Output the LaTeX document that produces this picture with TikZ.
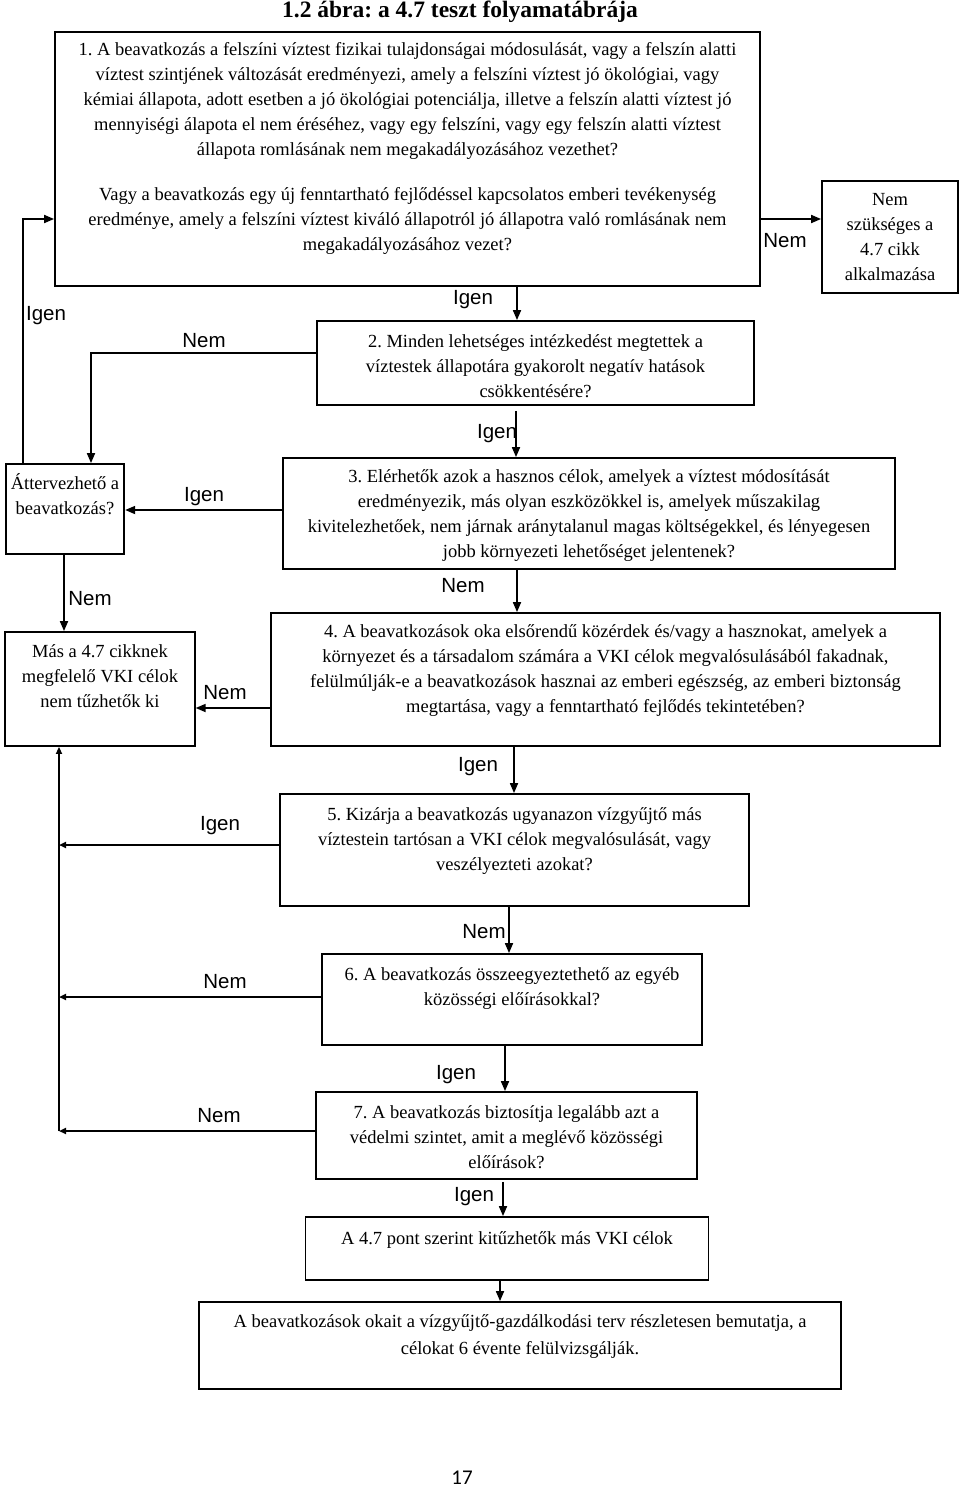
\documentclass[tikz,border=0pt]{standalone}
\usepackage{fontspec}
\setmainfont{Liberation Serif}
\newfontfamily\labfont{Liberation Sans}
\newfontfamily\pgnfont{Carlito}
\usetikzlibrary{arrows.meta}
\frenchspacing
\begin{document}
\begin{tikzpicture}[x=1pt,y=-1pt,
  boxs/.style={draw, line width=1.8pt, inner sep=0pt},
  txt/.style={align=center, inner sep=0pt, font=\fontsize{18.5}{24.8}\selectfont},
  lab/.style={inner sep=0pt, font=\labfont\fontsize{20.5}{22}\selectfont},
  arr/.style={line width=1.7pt, -{Triangle[length=10pt,width=8pt]}},
  sarr/.style={line width=1.7pt, -{Triangle[length=7pt,width=6pt]}}]
\fill[white] (0,0) rectangle (960,1488);
\useasboundingbox (0,0) rectangle (960,1488);

% helper coordinates
\coordinate (xL) at (23,0);
\coordinate (x91) at (91,0);
\coordinate (x64) at (64,0);
\coordinate (x59) at (59,0);
\coordinate (x517) at (517,0);
\coordinate (x516) at (516,0);
\coordinate (x514) at (514,0);
\coordinate (x509) at (509,0);
\coordinate (x505) at (505,0);
\coordinate (x503) at (503,0);
\coordinate (x500) at (500,0);
\coordinate (y219) at (0,219);
\coordinate (y353) at (0,353);
\coordinate (y510) at (0,510);
\coordinate (y708) at (0,708);
\coordinate (y845) at (0,845);
\coordinate (y997) at (0,997);
\coordinate (y1131) at (0,1131);

% title
\node[inner sep=0pt, font=\bfseries\fontsize{23.5}{26}\selectfont] (title) at (460,12) {1.2 ábra: a 4.7 teszt folyamatábrája};

% boxes
\node[boxs, minimum width=705pt, minimum height=254pt] (b1) at (407.5,159) {};
\node[boxs, minimum width=136pt, minimum height=112pt] (nsz) at (890,237) {};
\node[boxs, minimum width=437pt, minimum height=84pt] (b2) at (535.5,363) {};
\node[boxs, minimum width=611.5pt, minimum height=111pt] (b3) at (589,513.5) {};
\node[boxs, minimum width=118.5pt, minimum height=90pt] (att) at (65,509) {};
\node[boxs, minimum width=189.5pt, minimum height=114pt] (mas) at (100,689) {};
\node[boxs, minimum width=669pt, minimum height=133pt] (b4) at (605.5,679.5) {};
\node[boxs, minimum width=469pt, minimum height=112pt] (b5) at (514.5,850) {};
\node[boxs, minimum width=380pt, minimum height=91pt] (b6) at (512,999.5) {};
\node[boxs, minimum width=381pt, minimum height=87pt] (b7) at (506.5,1135.5) {};
\node[boxs, minimum width=403pt, minimum height=63pt] (b8) at (507,1248.5) {};
\node[boxs, minimum width=642pt, minimum height=87pt] (b9) at (520,1345.5) {};

% box texts (anchor=base = baseline of the last line)
\node[txt, anchor=base] (t1) at (407.5,250.5) {1. A beavatkozás a felszíni víztest fizikai tulajdonságai módosulását, vagy a felszín alatti\\
víztest szintjének változását eredményezi, amely a felszíni víztest jó ökológiai, vagy\\
kémiai állapota, adott esetben a jó ökológiai potenciálja, illetve a felszín alatti víztest jó\\
mennyiségi álapota el nem éréséhez, vagy egy felszíni, vagy egy felszín alatti víztest\\
állapota romlásának nem megakadályozásához vezethet?\\[21pt]
Vagy a beavatkozás egy új fenntartható fejlődéssel kapcsolatos emberi tevékenység\\
eredménye, amely a felszíni víztest kiváló állapotról jó állapotra való romlásának nem\\
megakadályozásához vezet?};
\node[txt, anchor=base] (tnsz) at (890,280) {Nem\\szükséges a\\4.7 cikk\\alkalmazása};
\node[txt, anchor=base] (t2) at (535.5,397) {2. Minden lehetséges intézkedést megtettek a\\
víztestek állapotára gyakorolt negatív hatások\\
csökkentésére?};
\node[txt, anchor=base] (t3) at (589,557) {3. Elérhetők azok a hasznos célok, amelyek a víztest módosítását\\
eredményezik, más olyan eszközökkel is, amelyek műszakilag\\
kivitelezhetőek, nem járnak aránytalanul magas költségekkel, és lényegesen\\
jobb környezeti lehetőséget jelentenek?};
\node[txt, anchor=base] (tatt) at (65,514) {Áttervezhető a\\beavatkozás?};
\node[txt, anchor=base] (tmas) at (100,707) {Más a 4.7 cikknek\\megfelelő VKI célok\\nem tűzhetők ki};
\node[txt, anchor=base] (t4) at (605.5,712) {4. A beavatkozások oka elsőrendű közérdek és/vagy a hasznokat, amelyek a\\
környezet és a társadalom számára a VKI célok megvalósulásából fakadnak,\\
felülmúlják-e a beavatkozások hasznai az emberi egészség, az emberi biztonság\\
megtartása, vagy a fenntartható fejlődés tekintetében?};
\node[txt, anchor=base] (t5) at (514.5,870) {5. Kizárja a beavatkozás ugyanazon vízgyűjtő más\\
víztestein tartósan a VKI célok megvalósulását, vagy\\
veszélyezteti azokat?};
\node[txt, anchor=base] (t6) at (512,1005) {6. A beavatkozás összeegyeztethető az egyéb\\
közösségi előírásokkal?};
\node[txt, anchor=base] (t7) at (506.5,1168) {7. A beavatkozás biztosítja legalább azt a\\
védelmi szintet, amit a meglévő közösségi\\
előírások?};
\node[txt, anchor=base] (t8) at (507,1244) {A 4.7 pont szerint kitűzhetők más VKI célok};
\node[txt, anchor=base] (t9) at (520,1354) {A beavatkozások okait a vízgyűjtő-gazdálkodási terv részletesen bemutatja, a\\[2pt]
célokat 6 évente felülvizsgálják.};

% connectors
\draw[arr] (b1.east |- y219) -- (nsz.west |- y219);
\draw[arr] (att.north -| xL) |- (b1.west |- y219);
\draw[arr] (b1.south -| x517) -- (b2.north -| x517);
\draw[arr] (b2.west |- y353) -| (att.north -| x91);
\draw[arr] ([yshift=-5pt]b2.south -| x516) -- (b3.north -| x516);
\draw[arr] (b3.west |- y510) -- (att.east |- y510);
\draw[arr] (att.south -| x64) -- (mas.north -| x64);
\draw[arr] (b3.south -| x517) -- (b4.north -| x517);
\draw[arr] (b4.west |- y708) -- (mas.east |- y708);
\draw[arr] (b4.south -| x514) -- (b5.north -| x514);
\draw[sarr] (b5.west |- y845) -- (x59 |- y845);
\draw[arr] (b5.south -| x509) -- (b6.north -| x509);
\draw[sarr] (b6.west |- y997) -- (x59 |- y997);
\draw[arr] (b6.south -| x505) -- (b7.north -| x505);
\draw[sarr] (b7.west |- y1131) -- (x59 |- y1131);
\draw[sarr] (x59 |- y1131) -- (mas.south -| x59);
\draw[arr] ([yshift=-2pt]b7.south -| x503) -- (b8.north -| x503);
\draw[arr] (b8.south -| x500) -- (b9.north -| x500);

% labels
\node[lab] (l1) at (785,241) {Nem};
\node[lab] (l2) at (46,316) {Igen};
\node[lab] (l3) at (473,300) {Igen};
\node[lab] (l4) at (204,341) {Nem};
\node[lab] (l5) at (497,434) {Igen};
\node[lab] (l6) at (204,497) {Igen};
\node[lab] (l7) at (90,599) {Nem};
\node[lab] (l8) at (463,586) {Nem};
\node[lab] (l9) at (225,693) {Nem};
\node[lab] (l10) at (478,767) {Igen};
\node[lab] (l11) at (220,826) {Igen};
\node[lab] (l12) at (484,932) {Nem};
\node[lab] (l13) at (225,982) {Nem};
\node[lab] (l14) at (456,1075) {Igen};
\node[lab] (l15) at (219,1116) {Nem};
\node[lab] (l16) at (474,1197) {Igen};

% page number
\node[inner sep=0pt, font=\pgnfont\fontsize{21}{24}\selectfont] (pg) at (462,1478) {17};
\end{tikzpicture}
\end{document}
